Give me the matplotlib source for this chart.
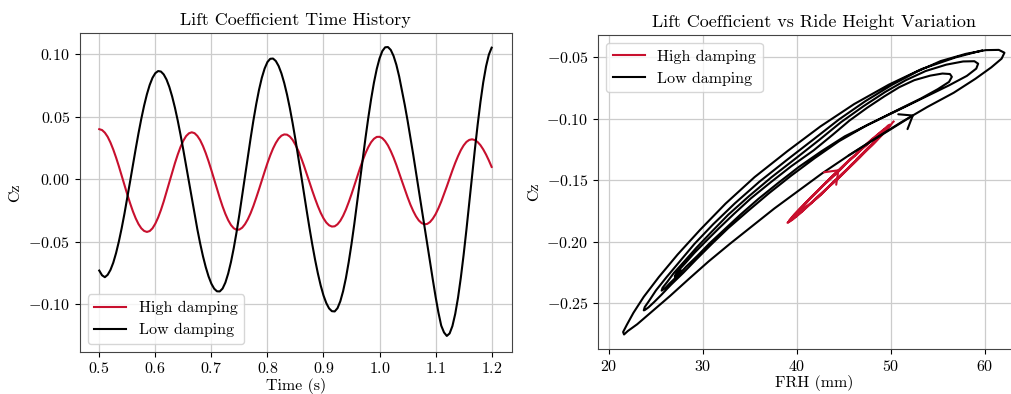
import numpy as np
import matplotlib

matplotlib.use("Agg")
import matplotlib.pyplot as plt

# sample times (s), one every 5 ms
time_s = np.linspace(0.5, 1.2, 141)

# lift coefficient about its mean, in units of 1e-4
cz_high_e4 = [
    401, 394, 373, 340, 294, 238, 174, 104, 29, -46,
    -121, -191, -256, -312, -358, -392, -413, -421, -414, -392,
    -355, -306, -246, -177, -102, -24, 54, 129, 198, 259,
    309, 346, 368, 376, 369, 347, 313, 266, 209, 144,
    73, -2, -77, -149, -217, -277, -327, -366, -392, -404,
    -402, -387, -359, -320, -271, -213, -148, -80, -9, 61,
    129, 191, 246, 291, 326, 349, 359, 357, 342, 315,
    276, 229, 173, 111, 45, -23, -91, -155, -215, -268,
    -312, -346, -368, -378, -376, -360, -332, -292, -242, -183,
    -119, -50, 19, 87, 151, 209, 258, 297, 324, 339,
    340, 329, 305, 271, 226, 174, 115, 51, -15, -80,
    -143, -202, -253, -296, -329, -350, -360, -357, -342, -315,
    -279, -232, -179, -119, -57, 8, 71, 131, 185, 233,
    271, 299, 315, 320, 314, 298, 273, 239, 198, 151,
    99,
]
cz_low_e4 = [
    -730, -768, -783, -764, -725, -667, -590, -497, -391, -274,
    -148, -18, 113, 243, 368, 484, 589, 680, 755, 812,
    849, 866, 862, 839, 798, 739, 663, 573, 470, 356,
    234, 107, -23, -152, -279, -400, -513, -615, -703, -777,
    -835, -875, -896, -897, -874, -826, -754, -661, -549, -421,
    -280, -130, 24, 178, 328, 471, 601, 716, 812, 886,
    938, 964, 966, 946, 906, 847, 770, 677, 569, 448,
    317, 179, 37, -108, -250, -389, -521, -643, -753, -849,
    -929, -990, -1033, -1055, -1057, -1031, -976, -895, -790, -662,
    -517, -357, -188, -13, 162, 333, 494, 642, 773, 882,
    967, 1026, 1056, 1058, 1035, 987, 916, 823, 710, 595,
    470, 337, 200, 56, -90, -230, -370, -515, -660, -802,
    -940, -1065, -1170, -1225, -1253, -1233, -1174, -1077, -947, -787,
    -604, -403, -191, 25, 236, 436, 618, 776, 903, 997,
    1053,
]

# front ride height (mm) at the same times
frh_high = [
    50.3, 50.2, 50.0, 49.6, 49.1, 48.4, 47.5, 46.6, 45.6, 44.6,
    43.5, 42.6, 41.6, 40.8, 40.1, 39.6, 39.2, 39.0, 39.1, 39.3,
    39.7, 40.3, 41.1, 42.0, 43.0, 44.0, 45.1, 46.2, 47.1, 48.0,
    48.8, 49.4, 49.7, 49.9, 49.9, 49.7, 49.3, 48.7, 48.0, 47.1,
    46.2, 45.2, 44.2, 43.1, 42.2, 41.3, 40.6, 40.0, 39.5, 39.3,
    39.2, 39.4, 39.7, 40.2, 40.8, 41.5, 42.4, 43.3, 44.3, 45.2,
    46.2, 47.1, 47.9, 48.6, 49.1, 49.5, 49.7, 49.7, 49.6, 49.3,
    48.8, 48.2, 47.5, 46.7, 45.8, 44.8, 43.9, 43.0, 42.2, 41.4,
    40.7, 40.2, 39.8, 39.6, 39.6, 39.8, 40.1, 40.6, 41.2, 42.0,
    42.8, 43.7, 44.7, 45.6, 46.5, 47.4, 48.1, 48.7, 49.1, 49.4,
    49.5, 49.4, 49.1, 48.7, 48.2, 47.5, 46.7, 45.8, 45.0, 44.0,
    43.2, 42.3, 41.6, 41.0, 40.4, 40.1, 39.9, 39.9, 40.0, 40.3,
    40.8, 41.3, 42.0, 42.8, 43.7, 44.6, 45.4, 46.3, 47.0, 47.7,
    48.3, 48.8, 49.0, 49.2, 49.2, 49.0, 48.7, 48.3, 47.7, 47.1,
    46.4,
]
frh_low = [
    27.6, 27.2, 27.0, 27.1, 27.5, 28.2, 29.1, 30.3, 31.7, 33.3,
    35.1, 37.2, 39.4, 41.8, 43.8, 45.6, 47.5, 49.3, 50.9, 52.5,
    54.2, 55.5, 56.3, 56.5, 56.2, 55.0, 53.2, 50.8, 48.1, 45.1,
    42.6, 40.2, 38.0, 35.9, 34.0, 32.3, 30.7, 29.4, 28.2, 27.3,
    26.5, 26.0, 25.6, 25.6, 25.7, 26.2, 26.9, 28.0, 29.3, 30.9,
    32.7, 34.9, 37.3, 39.9, 42.4, 44.7, 47.1, 49.4, 51.6, 53.7,
    55.9, 57.7, 58.9, 59.3, 59.1, 58.1, 56.2, 53.7, 50.8, 47.5,
    44.5, 41.9, 39.4, 37.0, 34.8, 32.7, 30.9, 29.3, 27.9, 26.6,
    25.6, 24.8, 24.2, 23.8, 23.7, 23.8, 24.3, 25.0, 26.1, 27.5,
    29.1, 31.1, 33.4, 36.0, 38.9, 41.8, 44.5, 47.3, 50.1, 52.8,
    55.3, 58.0, 60.1, 61.5, 62.1, 61.8, 60.7, 59.0, 56.7, 53.9,
    51.1, 48.3, 45.5, 42.7, 40.1, 37.6, 35.3, 32.9, 30.6, 28.5,
    26.5, 24.6, 23.0, 22.0, 21.6, 21.5, 21.9, 22.6, 23.7, 25.3,
    27.3, 29.7, 32.4, 35.5, 39.0, 42.5, 46.1, 49.8, 53.3, 56.9,
    59.7,
]

# mean Cz level of each run, added back for the ride height plot
cz_mean_high = -0.1425
cz_mean_low = -0.15

RED = "#c8102e"

plt.rcParams["font.family"] = "serif"
plt.rcParams["font.serif"] = ["cmr10"]
plt.rcParams["mathtext.fontset"] = "cm"
plt.rcParams["axes.formatter.use_mathtext"] = True
plt.rcParams["font.size"] = 11.5

cz_high = np.array(cz_high_e4) * 1e-4
cz_low = np.array(cz_low_e4) * 1e-4

fig = plt.figure(figsize=(10.11, 3.94), dpi=100)
ax1 = fig.add_axes([0.0791, 0.1074, 0.4270, 0.8081])
ax2 = fig.add_axes([0.5918, 0.1142, 0.4268, 0.7970])

ax1.plot(time_s, cz_high, color=RED, lw=1.5, label="High damping")
ax1.plot(time_s, cz_low, color="k", lw=1.5, label="Low damping")
ax1.set_xlim(0.4656, 1.2357)
ax1.set_ylim(-0.1379, 0.1168)
ax1.set_title("Lift Coefficient Time History", fontsize=13)
ax1.set_xlabel("Time (s)", labelpad=1)
ax1.set_ylabel("Cz")
ax1.legend(loc="lower left")

y_high = cz_high + cz_mean_high
y_low = cz_low + cz_mean_low
ax2.plot(frh_high, y_high, color=RED, lw=1.5, label="High damping")
ax2.plot(frh_low, y_low, color="k", lw=1.5, label="Low damping")

# direction arrows on the loops
arrow = dict(arrowstyle="->,head_length=0.6,head_width=0.45", lw=1.5,
             mutation_scale=14, shrinkA=0, shrinkB=0)
ax2.annotate("", xy=((frh_high[25] + frh_high[26]) / 2, (y_high[25] + y_high[26]) / 2),
             xytext=(frh_high[23], y_high[23]), arrowprops=dict(arrow, color=RED))
ax2.annotate("", xy=((frh_low[109] + frh_low[110]) / 2, (y_low[109] + y_low[110]) / 2),
             xytext=(frh_low[112], y_low[112]), arrowprops=dict(arrow, color="k"))

ax2.set_xlim(18.86, 64.8)
ax2.set_ylim(-0.2871, -0.0321)
ax2.set_title("Lift Coefficient vs Ride Height Variation", fontsize=13)
ax2.set_xlabel("FRH (mm)", labelpad=1)
ax2.set_ylabel("Cz")
ax2.legend(loc="upper left")

for ax in (ax1, ax2):
    ax.grid(True, color="#cccccc", lw=0.9)
    for spine in ax.spines.values():
        spine.set_color("#444444")

fig.savefig("out.png")
